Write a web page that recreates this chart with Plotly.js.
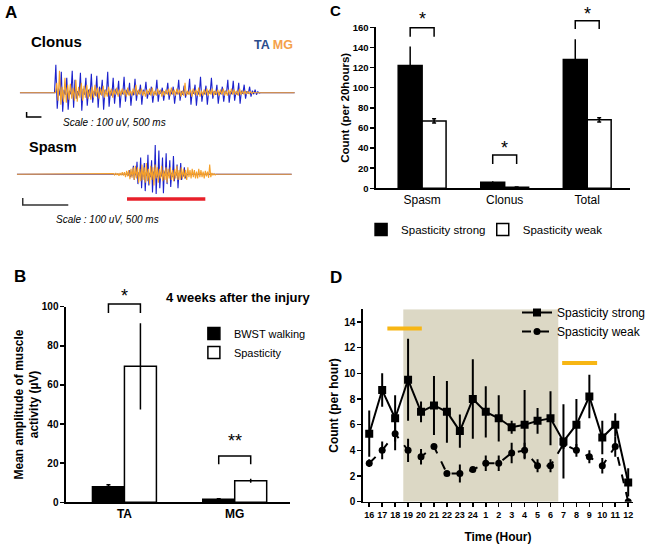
<!DOCTYPE html>
<html><head><meta charset="utf-8">
<script src="https://cdn.plot.ly/plotly-3.0.1.min.js"></script>
<style>html,body{margin:0;padding:0;background:#fff}#chart{width:651px;height:544px}</style>
</head><body><div id="chart"></div>
<script>
// ---------- Panel A: EMG samples (uV) ----------
const clonusDuration = 9.27;      // s
const clonusOnsetTA = 1.17, clonusOnsetMG = 1.2, clonusDt = 0.046;
const clonusTA = [
 560,-320,80,-60,420,-380,60,-40,300,-340,
 40,-30,440,-300,260,-120,30,-60,400,-360,
 80,-40,300,-260,60,-80,380,-200,40,-60,
 340,-300,120,-40,260,-340,60,-30,420,-280,
 40,-60,300,-220,80,-40,240,-300,40,-30,
 320,-180,60,-40,200,-260,30,-50,280,-160,
 40,-30,160,-240,60,-20,220,-120,30,-40,
 120,-200,20,-30,260,-180,40,-20,100,-160,
 30,-20,200,-140,40,-30,120,-220,20,-30,
 260,-160,30,-40,140,-100,20,-30,280,-240,
 40,-20,160,-260,30,-40,320,-180,20,-30,
 140,-240,40,-20,300,-120,30,-40,160,-220,
 20,-30,120,-180,40,-20,260,-200,30,-30,
 240,-160,20,-40,200,-220,40,-20,160,-120,
 30,-20,120,-80,40,-30,60,-40,20,-10];
const clonusMG = [
 200,-160,440,-240,120,-180,300,-200,160,-140,
 180,-120,100,-160,260,-180,120,-100,200,-160,
 140,-100,160,-120,80,-140,120,-100,160,-80,
 100,-120,80,-60,140,-100,60,-80,120,-60,
 80,-100,60,-40,100,-80,60,-60,80,-40,
 60,-80,100,-60,40,-60,80,-40,160,-60,
 60,-40,80,-60,40,-80,60,-40,80,-60,
 100,-60,40,-60,80,-40,60,-80,40,-60,
 60,-40,80,-60,100,-40,60,-60,80,-40,
 60,-80,40,-60,200,-60,40,-40,60,-80,
 80,-40,60,-60,100,-80,40,-60,60,-40,
 80,-60,60,-40,80,-60,40,-40,60,-60,
 60,-40,80,-60,40,-60,60,-40,80,-40,
 60,-40,40,-60,80,-40,40,-30,40,-30,
 30,-20,20,-20,10];
const spasmDuration = 3.02;
const spasmOnsetTA = 1.21, spasmOnsetMG = 1.05, spasmDtTA = 0.01, spasmDtMG = 0.012;
const spasmTA = [
 20,-20,60,-40,10,-20,120,-80,20,-10,
 180,-140,30,-20,240,-200,40,-30,160,-240,
 30,-20,280,-160,20,-40,200,-260,40,-20,
 420,-280,30,-40,340,-200,20,-30,240,-270,
 40,-20,300,-140,30,-20,200,-180,20,-40,
 260,-100,30,-20,140,-200,20,-10,160,-80,
 20,-30,100,-60,10,-10];
const spasmMG = [
 10,-10,20,-10,15,-20,20,-15,30,-20,
 30,-40,50,-30,60,-70,80,-50,100,-80,
 120,-60,100,-120,80,-100,140,-80,100,-120,
 160,-100,80,-140,120,-80,100,-160,140,-60,
 100,-120,80,-60,120,-100,60,-80,100,-120,
 80,-60,100,-80,60,-100,80,-60,120,-80,
 60,-80,100,-60,80,-60,60,-80,100,-40,
 60,-60,80,-40,60,-60,40,-60,80,-40,
 60,-40,40,-60,50,-30,40,-50,140,-40,
 20,-10,10,-10];
const spasmEventStart = 1.21, spasmEventEnd = 2.07;   // red bar (s)
const scaleVolt = 100, scaleTime = 0.5;

// ---------- Panel B ----------
const muscles = ['TA', 'MG'];
const bwstMean = [8, 1.5];
const bwstErr = [1, 0.3];
const spastMean = [69.5, 11];
const spastErr = [22, 1];
const sigLowB = [96.8, 19.5], sigTopB = [101.4, 23.7], sigStarB = ['*', '**'], starLevelB = [108, 34];

// ---------- Panel C ----------
const eventTypes = ['Spasm', 'Clonus', 'Total'];
const strongCount = [122, 6, 128];
const strongErr = [19, 1, 20];
const weakCount = [67, 1, 68];
const weakErr = [2, 0.3, 2];
const sigLowC = [150.7, 24.2, 158.3], sigTopC = [159.6, 33.1, 166.6], sigStarC = ['*', '*', '*'], starLevelC = [173.5, 45, 178];

// ---------- Panel D ----------
const hours = ['16','17','18','19','20','21','22','23','24','1','2','3','4','5','6','7','8','9','10','11','12'];
const strongRate = [5.3,8.7,6.5,9.5,7.0,7.5,7.0,5.5,8.0,7.0,6.5,5.8,6.0,6.3,6.5,4.7,6.0,8.2,5.0,6.0,1.5];
const strongRateErr = [1.8,1.3,1.8,3.2,0.8,2.3,2.4,1.3,3.1,2.0,1.8,0.5,2.7,1.0,2.1,2.9,2.0,1.7,1.3,0.9,1.1];
const weakRate = [3.0,4.0,5.3,4.0,3.5,4.3,2.2,2.2,2.5,3.0,3.0,3.8,4.0,2.8,2.8,4.5,4.0,3.5,2.8,4.3,0];
const weakRateErr = [0.3,0.7,1.3,0.9,0.6,0.1,0.2,0.7,0.2,0.6,0.6,0.8,0.6,0.5,0.5,0.4,0.5,0.5,0.6,0.8,0];
const darkStart = 2.63, darkEnd = 14.6;           // category index units
const markFrom = [1.4, 14.9], markTo = [4.06, 17.6], markLevel = [13.5, 10.8];

// ---------- helpers ----------
const W = 651, H = 544;
const PX = x => x / W, PY = y => 1 - y / H;
const FONT = 'Arial, "Liberation Sans", sans-serif';
function emg(onset, dt, vals, dur) {
  const x = [0, onset], y = [0, 0];
  vals.forEach((v, i) => { x.push(onset + (i + 1) * dt); y.push(v); });
  x.push(onset + (vals.length + 1) * dt, dur); y.push(0, 0);
  return {x, y};
}
function toPaper(ax, v) { return ax.domain[0] + (v - ax.range[0]) / (ax.range[1] - ax.range[0]) * (ax.domain[1] - ax.domain[0]); }

const BLUE = '#1c22cc', ORANGE = '#f5a02a';
const barGap = 0.42;
const halfOff = (1 - barGap) / 4;

const axB = {domain: [PX(66.7), PX(293)], range: [-0.53, 1.5]};
const ayB = {domain: [PY(502.3), PY(306.7)], range: [0, 100]};
const axC = {domain: [PX(380), PX(637)], range: [-0.56, 2.52]};
const ayC = {domain: [PY(188.3), PY(27.3)], range: [0, 160]};
const axD = {domain: [PX(366.7), PX(640)], range: [-0.5, 20.38]};
const ayD = {domain: [PY(501.7), PY(309.2)], range: [0, 15]};
const axA1 = {domain: [PX(20), PX(298)], range: [0, clonusDuration]};
const ayA1 = {domain: [PY(127.7), PY(57.7)], range: [-700, 700]};
const axA2 = {domain: [PX(17), PX(295)], range: [0, spasmDuration]};
const ayA2 = {domain: [PY(209.3), PY(139.3)], range: [-500, 500]};

const cTA = emg(clonusOnsetTA, clonusDt, clonusTA, clonusDuration);
const cMG = emg(clonusOnsetMG, clonusDt, clonusMG, clonusDuration);
const sTA = emg(spasmOnsetTA, spasmDtTA, spasmTA, spasmDuration);
const sMG = emg(spasmOnsetMG, spasmDtMG, spasmMG, spasmDuration);

const traces = [
  // A
  {type:'scatter', mode:'lines', x:cTA.x, y:cTA.y, xaxis:'x3', yaxis:'y3', line:{color:BLUE, width:1.1}, showlegend:false},
  {type:'scatter', mode:'lines', x:cMG.x, y:cMG.y, xaxis:'x3', yaxis:'y3', line:{color:ORANGE, width:1.1}, showlegend:false},
  {type:'scatter', mode:'lines', x:sTA.x, y:sTA.y, xaxis:'x4', yaxis:'y4', line:{color:BLUE, width:1.1}, showlegend:false},
  {type:'scatter', mode:'lines', x:sMG.x, y:sMG.y, xaxis:'x4', yaxis:'y4', line:{color:ORANGE, width:1.1}, showlegend:false},
  // B
  {type:'bar', name:'BWST walking', x:muscles, y:bwstMean, xaxis:'x', yaxis:'y', legend:'legend',
   marker:{color:'#000', line:{color:'#000', width:1.5}},
   error_y:{type:'data', array:bwstErr, color:'#000', thickness:1.5, width:2}},
  {type:'bar', name:'Spasticity', x:muscles, y:spastMean, xaxis:'x', yaxis:'y', legend:'legend',
   marker:{color:'#fff', line:{color:'#000', width:1.5}},
   error_y:{type:'data', array:spastErr, color:'#000', thickness:1.5, width:0}},
  // C
  {type:'bar', name:'Spasticity strong', x:eventTypes, y:strongCount, xaxis:'x2', yaxis:'y2', legend:'legend2',
   marker:{color:'#000', line:{color:'#000', width:1.5}},
   error_y:{type:'data', array:strongErr, color:'#000', thickness:1.5, width:0}},
  {type:'bar', name:'Spasticity weak', x:eventTypes, y:weakCount, xaxis:'x2', yaxis:'y2', legend:'legend4',
   marker:{color:'#fff', line:{color:'#000', width:1.5}},
   error_y:{type:'data', array:weakErr, color:'#000', thickness:1.5, width:2}},
  // D
  {type:'scatter', mode:'lines+markers', name:'Spasticity strong', x:hours, y:strongRate, xaxis:'x5', yaxis:'y5', legend:'legend3',
   line:{color:'#000', width:2}, marker:{symbol:'square', size:8, color:'#000'},
   error_y:{type:'data', array:strongRateErr, color:'#000', thickness:2, width:0}},
  {type:'scatter', mode:'lines+markers', name:'Spasticity weak', x:hours, y:weakRate, xaxis:'x5', yaxis:'y5', legend:'legend3',
   line:{color:'#000', width:2, dash:'dash'}, marker:{symbol:'circle', size:7, color:'#000'},
   error_y:{type:'data', array:weakRateErr, color:'#000', thickness:2, width:0}},
];

const hidden = {visible:false, fixedrange:true};
const baseAx = {showgrid:false, zeroline:false, showline:true, linecolor:'#000', linewidth:1.5, ticks:'outside', ticklen:4, tickwidth:1.5, tickcolor:'#000', fixedrange:true};

const shapes = [];
const annotations = [];
function bracket(axX, axY, cat, low, top) {
  const x1 = toPaper(axX, cat - halfOff), x2 = toPaper(axX, cat + halfOff);
  const yl = toPaper(axY, low), yt = toPaper(axY, top);
  shapes.push({type:'path', xref:'paper', yref:'paper', path:`M ${x1},${yl} L ${x1},${yt} L ${x2},${yt} L ${x2},${yl}`, line:{color:'#000', width:1.5}});
}
function star(axX, axY, cat, level, txt) {
  annotations.push({xref:'paper', yref:'paper', x:toPaper(axX, cat), y:toPaper(axY, level), text:txt, showarrow:false,
    font:{family:FONT, size:18, color:'#000'}, xanchor:'center', yanchor:'middle', yshift:-5});
}
sigLowB.forEach((v, i) => { bracket(axB, ayB, i, v, sigTopB[i]); star(axB, ayB, i, starLevelB[i], sigStarB[i]); });
sigLowC.forEach((v, i) => { bracket(axC, ayC, i, v, sigTopC[i]); star(axC, ayC, i, starLevelC[i], sigStarC[i]); });

// D: dark period and marks
shapes.push({type:'rect', xref:'x5', yref:'y5', x0:darkStart, x1:darkEnd, y0:0, y1:15, fillcolor:'#dcd8c5', line:{width:0}, layer:'below'});
markFrom.forEach((f, i) => shapes.push({type:'line', xref:'x5', yref:'y5', x0:f, x1:markTo[i], y0:markLevel[i], y1:markLevel[i], line:{color:'#f7b614', width:4}}));
// A: scale bars and red bar
shapes.push({type:'path', xref:'x3', yref:'y3', path:`M 0.23,${-486 + scaleVolt} L 0.23,-486 L ${0.23 + scaleTime},-486`, line:{color:'#000', width:1.5}});
shapes.push({type:'path', xref:'x4', yref:'y4', path:`M 0.065,${-439 + scaleVolt} L 0.065,-439 L ${0.065 + scaleTime},-439`, line:{color:'#333', width:1.5}});
shapes.push({type:'line', xref:'x4', yref:'y4', x0:spasmEventStart, x1:spasmEventEnd, y0:-353, y1:-353, line:{color:'#e8202a', width:3.5}});

function txt(x, y, text, size, opts = {}) {
  annotations.push(Object.assign({xref:'paper', yref:'paper', x:PX(x), y:PY(y), text, showarrow:false, xanchor:'left', yanchor:'middle',
    font:Object.assign({family:FONT, size, color:'#000'}, opts.font || {})}, opts.extra || {}));
}
txt(3, 12, 'A', 17, {font:{weight:'bold'}});
txt(29, 42, 'Clonus', 15, {font:{weight:'bold'}});
txt(255, 45, `<span style="color:#2b4c8c">TA</span> <span style="color:#f4a14a">MG</span>`, 12.5, {font:{weight:'bold'}});
txt(62, 123, 'Scale : 100 uV, 500 ms', 10, {font:{style:'italic'}});
txt(27, 147, 'Spasm', 14.5, {font:{weight:'bold'}});
txt(55, 219, 'Scale : 100 uV, 500 ms', 10, {font:{style:'italic'}});
txt(12, 276, 'B', 17, {font:{weight:'bold'}});
txt(241, 297, '4 weeks after the injury', 13, {font:{weight:'bold'}, extra:{xanchor:'center'}});
txt(332, 0, 'C', 15, {font:{weight:'bold'}, extra:{yanchor:'top'}});
txt(332, 277, 'D', 17, {font:{weight:'bold'}});

const layout = {
  width: W, height: H, margin:{l:0, r:0, t:0, b:0}, paper_bgcolor:'#fff', plot_bgcolor:'rgba(0,0,0,0)',
  font:{family:FONT, color:'#000'}, barmode:'group', bargap:barGap, hovermode:false,
  xaxis: Object.assign({}, baseAx, {domain:axB.domain, range:axB.range, anchor:'y', ticks:'', tickfont:{size:12, weight:'bold'}}),
  yaxis: Object.assign({}, baseAx, {domain:ayB.domain, range:ayB.range, anchor:'x', dtick:20, tickfont:{size:10, weight:'bold'},
    title:{text:'Mean amplitude of muscle<br>activity (µV)', font:{size:12, weight:'bold'}, standoff:0}}),
  xaxis2: Object.assign({}, baseAx, {domain:axC.domain, range:axC.range, anchor:'y2', ticks:'', tickfont:{size:12}}),
  yaxis2: Object.assign({}, baseAx, {domain:ayC.domain, range:ayC.range, anchor:'x2', dtick:20, tickfont:{size:9.5, weight:'bold'},
    title:{text:'Count (per 20hours)', font:{size:11.5, weight:'bold'}, standoff:0}}),
  xaxis3: Object.assign({}, hidden, {domain:axA1.domain, range:axA1.range, anchor:'y3'}),
  yaxis3: Object.assign({}, hidden, {domain:ayA1.domain, range:ayA1.range, anchor:'x3'}),
  xaxis4: Object.assign({}, hidden, {domain:axA2.domain, range:axA2.range, anchor:'y4'}),
  yaxis4: Object.assign({}, hidden, {domain:ayA2.domain, range:ayA2.range, anchor:'x4'}),
  xaxis5: Object.assign({}, baseAx, {domain:axD.domain, range:axD.range, anchor:'y5', type:'category', tickfont:{size:9, weight:'bold'},
    title:{text:'Time (Hour)', font:{size:12, weight:'bold'}, standoff:13}}),
  yaxis5: Object.assign({}, baseAx, {domain:ayD.domain, range:ayD.range, anchor:'x5', dtick:2, tickfont:{size:10, weight:'bold'},
    title:{text:'Count (per hour)', font:{size:12, weight:'bold'}, standoff:3}}),
  legend: {x:PX(196), y:PY(319), xanchor:'left', yanchor:'top', bgcolor:'rgba(0,0,0,0)', font:{size:11}, itemwidth:30},
  legend2: {x:PX(365), y:PY(215), xanchor:'left', yanchor:'top', bgcolor:'rgba(0,0,0,0)', font:{size:11.5}, itemwidth:30},
  legend4: {x:PX(488), y:PY(215), xanchor:'left', yanchor:'top', bgcolor:'rgba(0,0,0,0)', font:{size:11.5}, itemwidth:30},
  legend3: {x:PX(523), y:PY(298), xanchor:'left', yanchor:'top', bgcolor:'rgba(0,0,0,0)', font:{size:12}, itemwidth:30},
  shapes, annotations
};
Plotly.newPlot('chart', traces, layout, {staticPlot:true, displayModeBar:false});
</script></body></html>
